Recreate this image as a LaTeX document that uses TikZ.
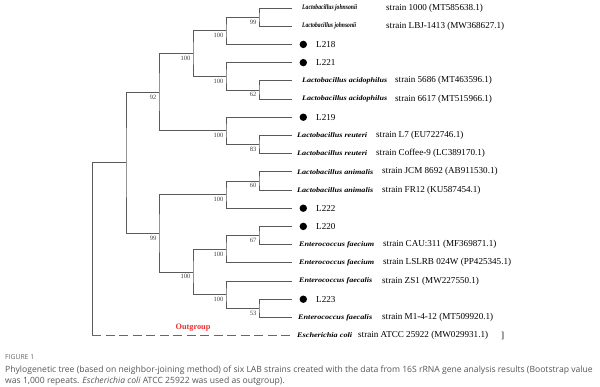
\documentclass[tikz,border=0pt]{standalone}
\usepackage{fontspec}
\usepackage{graphicx}
\setmainfont{Liberation Serif}
\newfontfamily\capfont{Open Sans}
\definecolor{treegray}{HTML}{5A5A5A}
\definecolor{ogred}{HTML}{E8302F}
\definecolor{capgray}{HTML}{555555}
\newcommand{\spname}[2]{\resizebox{#1pt}{\height}{\fontsize{7}{8}\selectfont\bfseries\itshape #2}}
\begin{document}
\begin{tikzpicture}[x=1pt,y=-1pt,
  br/.style={draw=treegray,line width=0.75pt},
  ogline/.style={draw=ogred,line width=1.4pt,dash pattern=on 9pt off 4.5pt},
  bs/.style={font=\fontsize{6.5}{7}\selectfont,text=black!75,anchor=north east,inner sep=0pt},
  strainlbl/.style={font=\fontsize{9.1}{10}\selectfont,anchor=west,inner sep=0pt},
  spn/.style={anchor=west,inner sep=0pt},
  isodot/.style={circle,fill=black,inner sep=0pt,minimum size=7.4pt},
  capline/.style={font=\capfont\fontsize{8.6}{9}\selectfont,text=capgray,anchor=base west,inner sep=0pt}]
\useasboundingbox (0,0) rectangle (600,386);
% leaves
\foreach \i in {0,...,17} {\coordinate (l\i) at (292,{8+18.2*\i});}
\coordinate (og) at (292,335.6);
% internal nodes
\coordinate (n99a) at (259,17.1);
\coordinate (n100b) at (226,30.75);
\coordinate (n62) at (259,89.9);
\coordinate (n100c) at (226,76.25);
\coordinate (n100a) at (193,53.5);
\coordinate (n83) at (259,144.5);
\coordinate (n100d) at (226,130.85);
\coordinate (n92) at (159,92.2);
\coordinate (n60) at (259,180.9);
\coordinate (n100e) at (226,194.55);
\coordinate (n67) at (259,235.5);
\coordinate (n100g) at (226,249.15);
\coordinate (n53) at (259,308.3);
\coordinate (n100h) at (226,294.65);
\coordinate (n100f) at (193,271.9);
\coordinate (n99b) at (159,233.2);
\coordinate (nA) at (126,162.7);
\coordinate (root) at (92,162.7);
\coordinate (rootb) at (92,335.6);
% branches
\draw[br] (l0) -| (n99a) |- (l1);
\draw[br] (n99a) -| (n100b) |- (l2);
\draw[br] (l4) -| (n62) |- (l5);
\draw[br] (l3) -| (n100c) |- (n62);
\draw[br] (n100b) -| (n100a) |- (n100c);
\draw[br] (l7) -| (n83) |- (l8);
\draw[br] (l6) -| (n100d) |- (n83);
\draw[br] (n100a) -| (n92) |- (n100d);
\draw[br] (l9) -| (n60) |- (l10);
\draw[br] (n60) -| (n100e) |- (l11);
\draw[br] (l12) -| (n67) |- (l13);
\draw[br] (n67) -| (n100g) |- (l14);
\draw[br] (l16) -| (n53) |- (l17);
\draw[br] (l15) -| (n100h) |- (n53);
\draw[br] (n100g) -| (n100f) |- (n100h);
\draw[br] (n100e) -| (n99b) |- (n100f);
\draw[br] (n92) -| (nA) |- (n99b);
\draw[br] (nA) -- (root) -- (rootb);
\draw[ogline] (rootb) -- (og);
% bootstrap values
\foreach \n/\v in {n99a/99,n100b/100,n62/62,n100c/100,n100a/100,n83/83,n100d/100,n92/92,n60/60,n100e/100,n67/67,n100g/100,n53/53,n100h/100,n100f/100,n99b/99}
  {\node[bs] at ([xshift=-2.5pt,yshift=-2.5pt]\n) {\v};}
\node[font=\fontsize{8.3}{9}\selectfont\bfseries,text=ogred,inner sep=0pt] (outg) at (193,328) {Outgroup};
% leaf labels
\node[spn] (s0) at (302,8) {\spname{55}{Lactobacillus johnsonii}};
\node[strainlbl] (t0) at (386,8) {strain 1000 (MT585638.1)};
\node[spn] (s1) at (302,26.2) {\spname{54}{Lactobacillus johnsonii}};
\node[strainlbl] (t1) at (386,26.2) {strain LBJ-1413 (MW368627.1)};
\node[isodot] (d2) at (303.3,44.4) {};
\node[strainlbl] (t2) at (316,44.4) {L218};
\node[isodot] (d3) at (303.3,62.6) {};
\node[strainlbl] (t3) at (316,62.6) {L221};
\node[spn] (s4) at (302,80.8) {\spname{85}{Lactobacillus acidophilus}};
\node[strainlbl] (t4) at (395,80.8) {strain 5686 (MT463596.1)};
\node[spn] (s5) at (302,99) {\spname{85}{Lactobacillus acidophilus}};
\node[strainlbl] (t5) at (395,99) {strain 6617 (MT515966.1)};
\node[isodot] (d6) at (303.3,117.2) {};
\node[strainlbl] (t6) at (316,117.2) {L219};
\node[spn] (s7) at (297,135.4) {\spname{70}{Lactobacillus reuteri}};
\node[strainlbl] (t7) at (376,135.4) {strain L7 (EU722746.1)};
\node[spn] (s8) at (297,153.6) {\spname{70}{Lactobacillus reuteri}};
\node[strainlbl] (t8) at (376,153.6) {strain Coffee-9 (LC389170.1)};
\node[spn] (s9) at (297,171.8) {\spname{76}{Lactobacillus animalis}};
\node[strainlbl] (t9) at (382,171.8) {strain JCM 8692 (AB911530.1)};
\node[spn] (s10) at (297,190) {\spname{76}{Lactobacillus animalis}};
\node[strainlbl] (t10) at (382,190) {strain FR12 (KU587454.1)};
\node[isodot] (d11) at (303.3,208.2) {};
\node[strainlbl] (t11) at (316,208.2) {L222};
\node[isodot] (d12) at (303.3,226.4) {};
\node[strainlbl] (t12) at (316,226.4) {L220};
\node[spn] (s13) at (299,244.6) {\spname{75}{Enterococcus faecium}};
\node[strainlbl] (t13) at (383,244.6) {strain CAU:311 (MF369871.1)};
\node[spn] (s14) at (299,262.8) {\spname{75}{Enterococcus faecium}};
\node[strainlbl] (t14) at (383,262.8) {strain LSLRB 024W (PP425345.1)};
\node[spn] (s15) at (299,281) {\spname{73}{Enterococcus faecalis}};
\node[strainlbl] (t15) at (382,281) {strain ZS1 (MW227550.1)};
\node[isodot] (d16) at (303.3,299.2) {};
\node[strainlbl] (t16) at (316,299.2) {L223};
\node[spn] (s17) at (298,317.4) {\spname{74}{Enterococcus faecalis}};
\node[strainlbl] (t17) at (382,317.4) {strain M1-4-12 (MT509920.1)};
\node[spn] (s18) at (297,335.6) {\spname{55}{Escherichia coli}};
\node[strainlbl] (t18) at (358,335.6) {strain ATCC 25922 (MW029931.1)};
\node[strainlbl] (brk) at (501,335.6) {]};
% caption
\node[font=\capfont\fontsize{6.8}{7}\selectfont,text=black!60,anchor=base west,inner sep=0pt] (fig) at (5,359) {FIGURE 1};
\node[capline] (c1) at (5,372.5) {Phylogenetic tree (based on neighbor-joining method) of six LAB strains created with the data from 16S rRNA gene analysis results (Bootstrap value};
\node[capline] (c2) at (5,383.5) {was 1,000 repeats. \textit{Escherichia coli} ATCC 25922 was used as outgroup).};
\end{tikzpicture}
\end{document}
